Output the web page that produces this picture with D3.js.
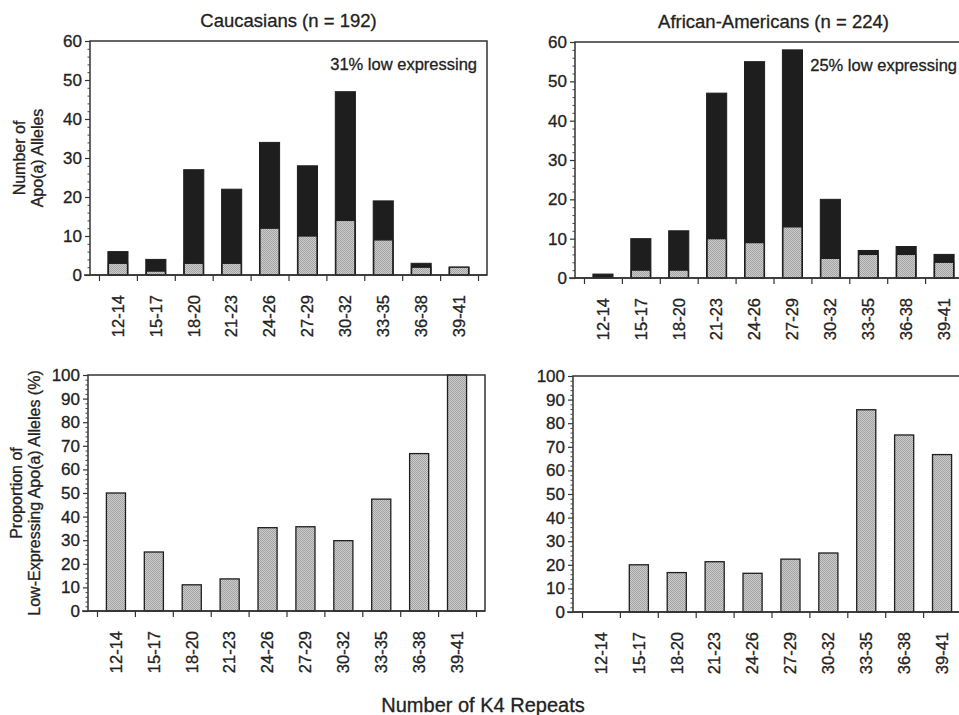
<!DOCTYPE html>
<html>
<head>
<meta charset="utf-8">
<script src="https://cdn.jsdelivr.net/npm/d3@7/dist/d3.min.js"></script>
<style>
  html, body { margin: 0; padding: 0; background: #fff; }
  svg { display: block; font-family: "Liberation Sans", Arial, Helvetica, sans-serif; }
  svg text { stroke: #222; stroke-width: 0.3px; }
</style>
</head>
<body>
<svg id="chart" width="959" height="715"></svg>
<script>
// ---- data ----
const categories = ["12-14","15-17","18-20","21-23","24-26","27-29","30-32","33-35","36-38","39-41"];
const cauTotal = [6, 4, 27, 22, 34, 28, 47, 19, 3, 2];
const cauLow   = [3, 1, 3, 3, 12, 10, 14, 9, 2, 2];
const aaTotal  = [1, 10, 12, 47, 55, 58, 20, 7, 8, 6];
const aaLow    = [0, 2, 2, 10, 9, 13, 5, 6, 6, 4];
const cauPct   = [50, 25, 11.1, 13.6, 35.3, 35.7, 29.8, 47.4, 66.7, 100];
const aaPct    = [0, 20, 16.7, 21.3, 16.4, 22.4, 25, 85.7, 75, 66.7];
const countTicks = [0, 10, 20, 30, 40, 50, 60];
const pctTicks   = [0, 10, 20, 30, 40, 50, 60, 70, 80, 90, 100];
const titles = ["Caucasians (n = 192)", "African-Americans (n = 224)"];
const notes  = ["31% low expressing", "25% low expressing"];

const svg = d3.select("#chart");
const defs = svg.append("defs");
const pat = defs.append("pattern").attr("id","stip").attr("patternUnits","userSpaceOnUse")
  .attr("width",2).attr("height",2);
pat.append("rect").attr("width",2).attr("height",2).attr("fill","#cdcdcd");
pat.append("rect").attr("x",0).attr("y",0).attr("width",1).attr("height",1).attr("fill","#a2a2a2");
pat.append("rect").attr("x",1).attr("y",1).attr("width",1).attr("height",1).attr("fill","#a2a2a2");

const ink = "#1e1e1e";
const BOXW = 397;
const W = 959;

function panel(cfg) {
  const g = svg.append("g");
  const x0 = cfg.x0, x1 = x0 + BOXW;
  const xs = d3.scaleBand().domain(categories).range([x0 + 9, x0 + 388])
    .paddingInner(0.47).paddingOuter(0.235);
  const ys = d3.scaleLinear().domain([0, cfg.max]).range([cfg.bottom, cfg.top]);

  // bars
  if (cfg.total) {
    g.selectAll("rect.tot").data(categories).join("rect")
      .attr("x", c => xs(c)).attr("width", xs.bandwidth())
      .attr("y", (c,i) => ys(cfg.total[i]))
      .attr("height", (c,i) => ys(0) - ys(cfg.total[i]))
      .attr("fill", ink).attr("stroke", ink).attr("stroke-width", 1);
  }
  g.selectAll("rect.low").data(categories.filter((c,i) => cfg.low[i] > 0)).join("rect")
    .attr("x", c => xs(c) + 0.5).attr("width", xs.bandwidth() - 1)
    .attr("y", c => ys(cfg.low[categories.indexOf(c)]))
    .attr("height", c => ys(0) - ys(cfg.low[categories.indexOf(c)]))
    .attr("fill", "url(#stip)").attr("stroke", ink).attr("stroke-width", 1.3);

  // frame
  g.append("rect").attr("x", x0).attr("y", cfg.top).attr("width", BOXW)
    .attr("height", cfg.bottom - cfg.top)
    .attr("fill", "none").attr("stroke", "#333").attr("stroke-width", 1.5);
  // baseline extends left of y axis
  g.append("line").attr("x1", x0 - 6).attr("x2", x1).attr("y1", cfg.bottom).attr("y2", cfg.bottom)
    .attr("stroke", "#333").attr("stroke-width", 1.5);

  // y axis
  const ya = g.append("g").attr("transform", `translate(${x0},0)`)
    .call(d3.axisLeft(ys).tickValues(cfg.ticks).tickSize(5).tickPadding(3));
  ya.select(".domain").remove();
  ya.selectAll("line").attr("stroke", "#333").attr("stroke-width", 1.2);
  ya.selectAll("text").attr("font-size", 17).attr("fill", "#222")
    .attr("font-family", "Liberation Sans, Arial, sans-serif");
  const minor = d3.range(0, cfg.max + 0.001, 2).filter(v => v % 10 !== 0);
  const ym = g.append("g").attr("transform", `translate(${x0},0)`)
    .call(d3.axisLeft(ys).tickValues(minor).tickSize(2.5).tickFormat(""));
  ym.select(".domain").remove();
  ym.selectAll("line").attr("stroke", "#444").attr("stroke-width", 1);

  // x boundary ticks
  const step = xs.step();
  const xb = d3.scaleLinear().domain([0, categories.length])
    .range([xs.range()[0], xs.range()[0] + step * categories.length]);
  const xt = g.append("g").attr("transform", `translate(0,${cfg.bottom})`)
    .call(d3.axisBottom(xb).tickValues(d3.range(categories.length + 1)).tickSize(6).tickFormat(""));
  xt.select(".domain").remove();
  xt.selectAll("line").attr("stroke", "#333").attr("stroke-width", 1.2);

  // x labels
  const xl = g.append("g").attr("transform", `translate(0,${cfg.bottom})`)
    .call(d3.axisBottom(xs).tickSize(0));
  xl.select(".domain").remove();
  xl.selectAll("text")
    .attr("transform", "rotate(-90)").attr("x", -20).attr("y", 0).attr("dy", "0.35em")
    .attr("text-anchor", "end").attr("font-size", 16.5).attr("fill", "#222")
    .attr("font-family", "Liberation Sans, Arial, sans-serif");

  if (cfg.title) {
    g.append("text").attr("x", (x0 + x1) / 2).attr("y", cfg.top - 14)
      .attr("text-anchor", "middle").attr("font-size", 18.5).attr("fill", "#222").text(cfg.title);
  }
  if (cfg.note) {
    g.append("text").attr("x", Math.min(x1 - 10, W - 2)).attr("y", cfg.top + 29)
      .attr("text-anchor", "end").attr("font-size", 16.5).attr("fill", "#222").text(cfg.note);
  }
  return g;
}

panel({x0: 90, top: 41, bottom: 275, max: 60, ticks: countTicks, total: cauTotal, low: cauLow, title: titles[0], note: notes[0]});
panel({x0: 575, top: 42, bottom: 278, max: 60, ticks: countTicks, total: aaTotal, low: aaLow, title: titles[1], note: notes[1]});
panel({x0: 88, top: 375, bottom: 611, max: 100, ticks: pctTicks, low: cauPct});
panel({x0: 573, top: 376, bottom: 612, max: 100, ticks: pctTicks, low: aaPct});

// y axis titles
function yTitle(cx, cy, lines) {
  const t = svg.append("text").attr("transform", `translate(${cx},${cy}) rotate(-90)`)
    .attr("text-anchor", "middle").attr("font-size", 16).attr("fill", "#222");
  lines.forEach((l, i) => t.append("tspan").attr("x", 0).attr("dy", i === 0 ? 0 : 18).text(l));
}
yTitle(25, 158, ["Number of", "Apo(a) Alleles"]);
yTitle(22, 493, ["Proportion of", "Low-Expressing Apo(a) Alleles (%)"]);

svg.append("text").attr("x", 483).attr("y", 712).attr("text-anchor", "middle")
  .attr("font-size", 20).attr("fill", "#222").text("Number of K4 Repeats");
</script>
</body>
</html>
